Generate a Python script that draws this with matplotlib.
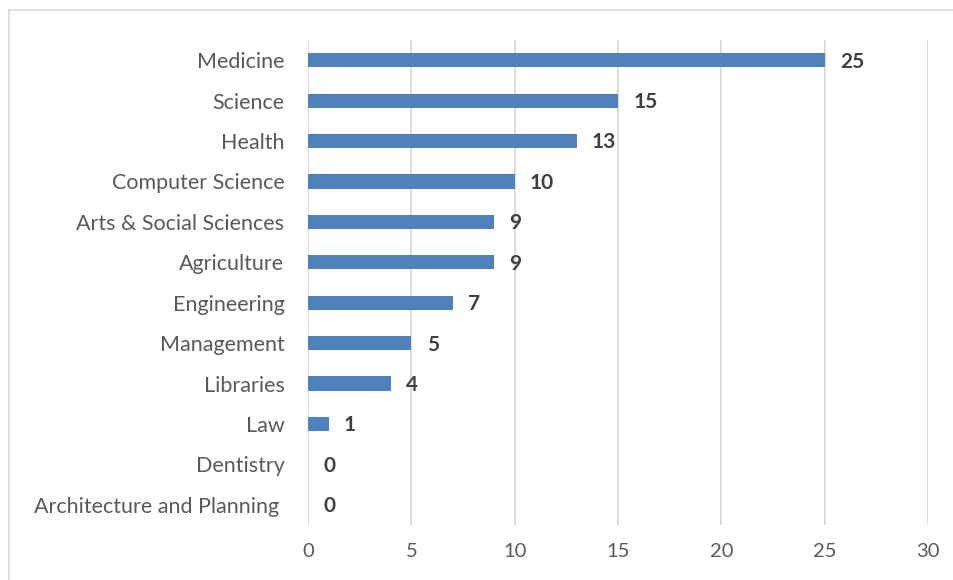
import matplotlib.pyplot as plt
from matplotlib.patches import Rectangle

categories = ['Architecture and Planning ', 'Dentistry', 'Law', 'Libraries', 'Management',
              'Engineering', 'Agriculture', 'Arts & Social Sciences', 'Computer Science',
              'Health', 'Science', 'Medicine']
values = [0, 0, 1, 4, 5, 7, 9, 9, 10, 13, 15, 25]
xticks = [0, 5, 10, 15, 20, 25, 30]

plt.rcParams['font.family'] = ['Lato', 'DejaVu Sans']

fig = plt.figure(figsize=(9.54, 5.8), dpi=100)
ax = fig.add_axes([0.3229, 0.0948, 0.6498, 0.8362])

# chart border (only left and top are inside the picture)
fig.patches.append(Rectangle((9 / 954, -0.1), 1.2, 1 - 10 / 580 + 0.1, transform=fig.transFigure,
                             fill=False, edgecolor='#d9d9d9', linewidth=1.2))

y = range(len(categories))
ax.barh(y, values, height=0.35, color='#4f81bd', zorder=3)

for i, v in enumerate(values):
    ax.annotate(str(v), (v, i), xytext=(11, -1), textcoords='offset points',
                ha='left', va='center', fontsize=15, fontweight='bold', color='#404040')

ax.set_xlim(0, 30)
ax.set_ylim(-0.5, len(categories) - 0.5)
ax.set_xticks(xticks)
ax.set_yticks(list(y))
ax.set_yticklabels(categories)
ax.tick_params(axis='y', length=0, labelsize=15.5, colors='#595959', pad=17)
ax.tick_params(axis='x', length=0, labelsize=14.5, colors='#595959', pad=13)
ax.grid(axis='x', color='#d9d9d9', linewidth=1.3, zorder=0)
for s in ax.spines.values():
    s.set_visible(False)

fig.savefig('out.png', dpi=100)
